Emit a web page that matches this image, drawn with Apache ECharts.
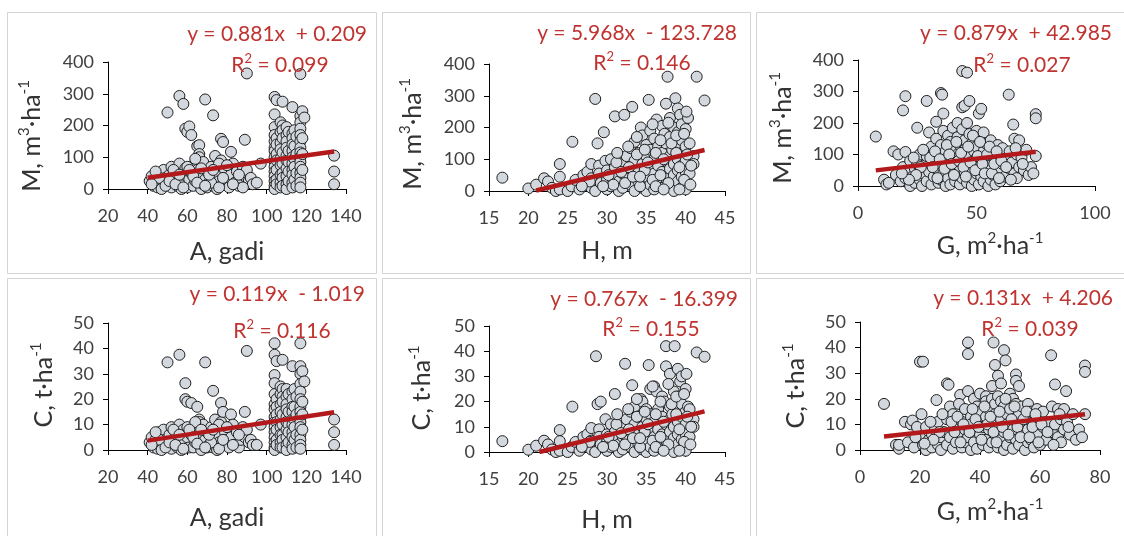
<!DOCTYPE html>
<html>
<head>
<meta charset="utf-8">
<script src="https://cdn.jsdelivr.net/npm/echarts@6/dist/echarts.min.js"></script>
<style>
    html, body { margin: 0; padding: 0; background: #fff; }
    #chart { width: 1124px; height: 536px; }
</style>
</head>
<body>
<div id="chart"></div>
<script>
// 样本点：[x, y]，按图片读数估计
// 图 1：蓄积量 M 与林龄 A
const ageVolume = [
    [41,25],[42,40],[43,10],[44,30],[45,5],[46,50],[47,20],[48,60],[48,8],[49,35],[50,241],[50,15],[51,45],[52,5],[52,70],[53,25],[54,55],[55,10],[55,35],[56,293],[56,80],[57,0],[57,20],[58,268],[58,45],[59,190],[59,65],[60,5],[60,180],[61,197],[61,30],[62,170],[62,50],[63,10],[63,75],[64,25],[65,60],[65,135],[66,138],[66,110],[66,100],[67,0],[67,40],[68,15],[68,85],[69,282],[69,30],[70,5],[70,55],[71,20],[72,70],[73,232],[73,10],[74,104],[74,35],[75,0],[75,50],[76,25],[77,158],[77,90],[78,148],[78,15],[79,60],[80,30],[81,5],[82,117],[82,45],[83,80],[84,20],[85,55],[86,10],[87,35],[88,70],[89,155],[89,40],[90,364],[90,60],[91,25],[92,35],[93,15],[95,20],[97,80],[88,5],[46,35],[53,60],[60,70],[64,95],[72,20],[76,80],
    [42,15],[44,55],[47,0],[49,10],[51,25],[54,15],[56,45],[58,5],[61,60],[63,40],[65,20],[67,65],[69,10],[71,45],[73,60],[76,5],[78,35],[80,75],[83,15],[86,45],
    [104,290],[104,235],[104,195],[104,170],[104,150],[104,130],[104,120],[104,100],[104,85],[104,70],[104,55],[104,40],[104,25],[104,10],[104,0],
    [105,280],[105,160],[105,140],[105,110],[105,90],[105,60],[105,30],[105,15],
    [107,210],[107,180],[107,145],[107,125],[107,95],[107,75],[107,45],[107,20],[107,5],
    [108,275],[108,200],[108,185],[108,160],[108,115],[108,80],[108,50],[108,35],[108,10],
    [110,195],[110,170],[110,150],[110,130],[110,105],[110,90],[110,65],[110,40],[110,15],[110,0],
    [111,180],[111,120],[111,85],[111,55],[111,25],
    [113,258],[113,175],[113,160],[113,140],[113,120],[113,100],[113,80],[113,60],[113,45],[113,20],[113,5],
    [114,185],[114,135],[114,95],[114,70],[114,30],
    [115,165],[115,110],[115,50],[115,10],
    [117,362],[117,230],[117,210],[117,190],[117,170],[117,150],[117,130],[117,115],[117,100],[117,85],[117,70],[117,50],[117,35],[117,20],[117,5],
    [118,245],[118,160],[118,110],[118,60],[119,225],
    [134,105],[134,55],[134,15]
];
// 图 2：蓄积量 M 与树高 H
const heightVolume = [
    [16.7,42],[20,8],[21,20],[22,40],[22.5,30],[23,10],[23.5,0],[24,85],[24,45],[24,5],[25,0],[25.6,155],[25.5,15],[26,35],[26.5,5],[27,50],[27,20],[27.5,60],[28,85],[28,40],[28,10],[28.5,290],[28.5,0],[28.8,150],[29,80],[29,55],[29.2,25],[29.6,185],[29.8,95],[30,65],[30,35],[30,5],[30.5,100],[30.5,15],[31,235],[31,75],[31,45],[31.5,0],[31.5,30],[32,85],[32,55],[32,10],[32.2,240],[32.5,110],[32.5,40],[33,135],[33,70],[33,20],[33.2,265],[33.5,155],[33.5,95],[33.5,0],[34,120],[34,60],[34,30],[34.3,200],[34.5,175],[34.5,85],[34.5,10],[35,145],[35,110],[35,45],[35,0],[35.3,287],[35.5,190],[35.5,130],[35.5,70],[35.5,20],[36,165],[36,100],[36,55],[36,5],[36.3,225],[36.5,140],[36.5,80],[36.5,30],[37,205],[37,120],[37,60],[37,10],[37.3,180],[37.5,275],[37.5,150],[37.5,95],[37.5,40],[37.7,360],[38,230],[38,170],[38,110],[38,70],[38,20],[38.3,130],[38.5,200],[38.5,85],[38.5,50],[38.5,0],[38.7,292],[39,260],[39,185],[39,145],[39,100],[39,65],[39,30],[39.3,240],[39.5,210],[39.5,160],[39.5,120],[39.5,80],[39.5,45],[39.5,10],[40,195],[40,140],[40,95],[40,60],[40,5],[40.3,230],[40.5,150],[40.5,55],[41,110],[41,85],[41.4,360],[42.4,285],
    [30.2,50],[30.8,20],[31.2,90],[31.8,60],[32.3,25],[32.8,75],[33.3,45],[33.8,115],[34.2,15],[34.8,65],[35.2,90],[35.8,35],[36.2,120],[36.8,50],[37.2,100],[37.8,25],[38.2,150],[38.8,120],[39.2,75],[39.8,35],[40.2,115],[40.7,80],[36.8,160],[35.8,210],[34.8,130],[33.8,170],[37.8,215],[38.8,175],[39.8,180],[40.1,250],[29.5,15],[27.8,30],[26.8,15],[31.3,120],[32.7,140],[34.2,45],[36.2,15],[37.2,5],[39.2,5],[40.6,20]
];
// 图 3：蓄积量 M 与断面积 G
const basalVolume = [
    [7.5,157],[11,20],[12,5],[13,10],[15,110],[16,35],[17,100],[18,15],[19,240],[19,60],[20,285],[20,108],[20,25],[21,45],[22,0],[22,80],[23,30],[24,55],[24,10],[25,185],[25,70],[26,20],[26,100],[27,40],[27,0],[28,65],[29,270],[29,95],[29,15],[30,170],[30,45],[31,125],[31,5],[32,80],[32,30],[33,204],[33,150],[33,55],[34,100],[34,10],[35,295],[35,130],[35,70],[35,20],[35.5,290],[36,230],[36,175],[36,40],[37,110],[37,85],[37,0],[38,160],[38,60],[38,25],[39,140],[39,95],[39,5],[40,185],[40,120],[40,50],[41,75],[41,15],[42,200],[42,155],[42,100],[42,35],[43,130],[43,60],[43,5],[44,365],[44,250],[44,180],[44,90],[44,25],[45,255],[45,145],[45,115],[45,45],[46,360],[46,200],[46,70],[46,10],[47,270],[47,165],[47,95],[47,30],[48,135],[48,55],[48,0],[49,110],[49,80],[49,20],[50,175],[50,125],[50,40],[51,230],[51,95],[51,60],[51,5],[52,245],[52,150],[52,30],[53,170],[53,110],[53,75],[53,15],[54,135],[54,50],[55,95],[55,0],[56,145],[56,65],[56,20],[57,115],[57,35],[58,85],[58,5],[59,130],[59,50],[60,100],[60,15],[61,70],[61,120],[62,30],[63,90],[63.6,290],[64,110],[64,55],[65,75],[65.5,195],[66,150],[66,40],[67,100],[67,25],[68,145],[68,60],[69,90],[70,50],[71,115],[72,35],[73,60],[74,40],[75,228],[75,215],[75,95],
    [30.5,90],[31.5,60],[32.5,110],[33.5,25],[34.5,85],[36.5,55],[37.5,130],[38.5,100],[39.5,70],[40.5,35],[41.5,140],[42.5,80],[43.5,105],[44.5,60],[45.5,30],[46.5,125],[47.5,75],[48.5,160],[49.5,50],[50.5,95],[51.5,140],[52.5,70],[53.5,40],[54.5,100],[55.5,125],[56.5,40],[57.5,70],[58.5,110],[59.5,25],[60.5,80],[62.5,60],[64.5,20],[66.5,120],[69.5,70],[27.5,115],[26.5,60],[24.5,35],[23.5,90],[21.5,20],[18.5,40]
];
// 图 4：碳储量 C 与林龄 A
const ageCarbon = [
    [41,3],[42,5],[43,1],[44,4],[45,0.5],[46,7],[47,2],[48,8],[48,1],[49,4],[50,34.5],[50,2],[51,6],[52,0.5],[52,9],[53,3],[54,7],[55,1],[55,4],[56,37.5],[56,10],[57,0],[57,2],[58,8],[59,26.3],[59,20],[60,5],[60,19],[61,1],[62,18.5],[62,6],[63,1],[63,9],[64,3],[65,7],[65,17],[66,12],[66,11],[67,0],[67,5],[68,2],[68,10],[69,34.5],[69,4],[70,1],[70,7],[71,2],[72,9],[73,23.3],[73,1],[74,12],[74,4],[75,0],[75,6],[76,3],[77,18.5],[77,11],[78,15],[78,2],[79,7],[80,4],[81,1],[82,14],[82,5],[83,10],[84,2],[85,7],[86,1],[87,4],[88,9],[89,15],[89,5],[90,39],[90,8],[91,3],[92,4],[93,2],[95,2],[97,10],[46,4],[53,8],[60,9],[64,11],[72,3],[76,10],
    [42,2],[44,7],[47,0],[49,1],[51,3],[54,2],[56,6],[58,0.5],[61,8],[63,5],[65,2.5],[67,8],[69,1],[71,6],[73,8],[76,0.5],[78,4],[80,9],[83,2],[86,6],
    [104,42],[104,37.5],[104,29.5],[104,26.3],[104,22],[104,18],[104,16],[104,13],[104,11],[104,9],[104,7],[104,5],[104,3],[104,1],[104,0],
    [105,35],[105,20],[105,17],[105,14],[105,11],[105,8],[105,4],[105,2],
    [107,25],[107,22],[107,18],[107,15],[107,12],[107,9],[107,6],[107,3],[107,1],
    [108,35.5],[108,24],[108,21],[108,19],[108,14],[108,10],[108,6],[108,4],[108,1],
    [110,24],[110,21],[110,18],[110,16],[110,13],[110,11],[110,8],[110,5],[110,2],[110,0],
    [111,22],[111,15],[111,10],[111,7],[111,3],
    [113,33],[113,23],[113,20],[113,17],[113,15],[113,12],[113,10],[113,7],[113,5],[113,2],[113,0.5],
    [114,24],[114,17],[114,12],[114,9],[114,4],
    [115,21],[115,14],[115,6],[115,1],
    [117,42],[117,33],[117,30],[117,26],[117,23],[117,20],[117,17],[117,15],[117,13],[117,11],[117,9],[117,6],[117,4],[117,2],[117,0.5],
    [118,31],[118,19],[118,14],[118,8],[119,27],
    [134,12],[134,7],[134,2]
];
// 图 5：碳储量 C 与树高 H
const heightCarbon = [
    [16.7,4.3],[20,0.9],[21,2.5],[22,4.5],[22.5,3],[23,1],[23.5,0],[24,8.7],[24,4.3],[24,0.5],[25,0],[25.6,18],[25.5,2],[26,4],[26.5,0.5],[27,6],[27,2.5],[27.5,7],[28,9.5],[28,4.5],[28,1],[28.6,38],[28.5,0],[28.8,19],[29,9],[29.2,20],[29,6],[29.2,3],[29.8,13],[30,7],[30,4],[30,0.5],[30.5,11],[30.5,2],[31,23],[31,8],[31,5],[31.5,0],[31.5,3],[32,10],[32,6],[32,1],[32.3,35],[32.5,13],[32.5,4.5],[33,16],[33,8],[33,2],[33.2,26.5],[33.5,18],[33.5,11],[33.5,0],[34,14],[34,7],[34,3],[34.3,21],[34.5,20],[34.5,10],[34.5,1],[35,17],[35,13],[35,5],[35,0],[35.3,34.5],[35.5,25],[35.5,15],[35.5,8],[35.5,2],[36,26],[36,12],[36,6],[36,0.5],[36.3,24],[36.5,17],[36.5,9],[36.5,3],[37,22],[37,14],[37,7],[37,1],[37.3,20],[37.5,42],[37.5,34],[37.5,11],[37.5,4.5],[38,31],[38,18],[38,13],[38,8],[38,2],[38.3,15],[38.5,24],[38.5,10],[38.5,5.5],[38.5,0],[38.6,42],[39,33],[39,22],[39,17],[39,12],[39,7],[39,3],[39.3,28],[39.5,30],[39.5,19],[39.5,14],[39.5,9],[39.5,5],[39.5,1],[40,25],[40,16],[40,11],[40,7],[40,0.5],[40.3,18],[40.5,17],[40.5,6],[41,13],[41,10],[41.4,39.5],[42.4,37.8],
    [30.2,6],[30.8,2.5],[31.2,11],[31.8,7.5],[32.3,3],[32.8,9],[33.3,5.5],[33.8,14],[34.2,2],[34.8,8],[35.2,11],[35.8,4.5],[36.2,15],[36.8,6],[37.2,12],[37.8,3],[38.2,19],[38.8,15],[39.2,9],[39.8,4],[40.2,14],[40.7,10],[36.8,20],[35.8,26],[34.8,16],[33.8,21],[37.8,27],[38.8,22],[39.8,23],[40.1,31],[29.5,2],[27.8,4],[26.8,2],[31.3,15],[32.7,17],[34.2,5.5],[36.2,2],[37.2,0.5],[39.2,0.5],[40.6,3]
];
// 图 6：碳储量 C 与断面积 G
const basalCarbon = [
    [8,18],[12,2],[13,0.5],[13,2],[15,11],[16,3],[17,10],[17.5,11.5],[18,1],[19,9],[20,34.5],[20.5,14],[20,5],[21,34.5],[21,2],[22,0],[22,9],[23,4],[24,6],[24,1],[25.5,19.5],[25,8],[26,2],[26,11],[27,5],[27,0],[28,7],[29,26],[29.5,25.5],[29,12],[29,2],[30,17],[30,5],[31,14],[31,0.5],[32,9],[32,3],[33.4,21.5],[33,18],[33,7],[34,11],[34,1],[35,16],[35,8],[35,3],[36,42],[36,37.5],[36,23],[36,5],[37,13],[37,10],[37,0],[38,20],[38,7],[38,3],[39,17],[39,12],[39,0.5],[40,22],[40,15],[40,6],[41,9],[41,2],[42,21],[42,19],[42,13],[42,4],[43,16],[43,8],[43,1],[44.5,42],[44,25],[44,20],[44,11],[44,3],[45,33.2],[45,18],[45,14],[45,6],[46,29],[46,21],[46,9],[46,1],[47,26],[47,19],[47,12],[47,4],[48,39],[48,17],[48,7],[48,0],[48.5,35],[49,14],[49,10],[49,2],[50,22],[50,16],[50,5],[51,20],[51,12],[51,8],[51,0.5],[52,29.5],[52,27],[52,18],[52,4],[53,25],[53,14],[53,9],[53,2],[54,17],[54,6],[55,12],[55,0],[56,18],[56,8],[56,3],[57,15],[57,4],[58,11],[58,1],[59,16],[59,6],[60,13],[60,2],[61,9],[61,15],[62,4],[63,11],[63.7,37],[64,17],[64,7],[65,25.6],[65,10],[66,16],[66,5],[67,12],[67,3],[68,16],[68,8],[68.7,23],[69,11],[70,6],[71,14],[72,4],[73,8],[74,5],[75,33],[75,30.5],[75,14],
    [30.5,11],[31.5,7],[32.5,13],[33.5,3],[34.5,10],[36.5,7],[37.5,16],[38.5,12],[39.5,9],[40.5,4],[41.5,17],[42.5,10],[43.5,13],[44.5,7],[45.5,3],[46.5,15],[47.5,9],[48.5,20],[49.5,6],[50.5,12],[51.5,17],[52.5,9],[53.5,5],[54.5,12],[55.5,15],[56.5,5],[57.5,9],[58.5,14],[59.5,3],[60.5,10],[62.5,7],[64.5,2],[66.5,14],[69.5,9],[27.5,14],[26.5,7],[24.5,4],[23.5,11],[21.5,2.5],[18.5,5]
];

// 趋势线两端点
const trendLines = [
    [[40, 35.4], [134, 118.3]],
    [[21, 1.6], [42.4, 129.3]],
    [[7.5, 49.6], [75, 108.9]],
    [[40, 3.7], [134, 14.9]],
    [[21.4, 0], [42.4, 16.1]],
    [[8, 5.3], [75, 14.0]]
];

// 回归方程与 R² 文本
const equations = ['y = 0.881x  + 0.209', 'y = 5.968x  - 123.728', 'y = 0.879x  + 42.985',
                   'y = 0.119x  - 1.019', 'y = 0.767x  - 16.399', 'y = 0.131x  + 4.206'];
const rSquared = ['0.099', '0.146', '0.027', '0.116', '0.155', '0.039'];

// 坐标轴刻度：[min, max, interval]
const xTicks = [[20, 140, 20], [15, 45, 5], [0, 100, 50], [20, 140, 20], [15, 45, 5], [0, 80, 20]];
const yTicks = [[0, 400, 100], [0, 400, 100], [0, 400, 100], [0, 50, 10], [0, 50, 10], [0, 50, 10]];

// 坐标轴标题（{sup|...} 为上标）
const xTitles = ['A, gadi', 'H, m', 'G, m{sup|2}·ha{sup|-1}', 'A, gadi', 'H, m', 'G, m{sup|2}·ha{sup|-1}'];
const yTitles = ['M, m{sup|3}·ha{sup|-1}', 'M, m{sup|3}·ha{sup|-1}', 'M, m{sup|3}·ha{sup|-1}',
                 'C, t·ha{sup|-1}', 'C, t·ha{sup|-1}', 'C, t·ha{sup|-1}'];

(function() {
    const FONT = 'Lato, "Noto Sans", sans-serif';
    const RED_TEXT = '#bf3330';
    const RED_LINE = '#b3191b';
    const seriesData = [ageVolume, heightVolume, basalVolume, ageCarbon, heightCarbon, basalCarbon];

    // 每个小图的绘图区位置与文字位置（像素）
    const layout = [
        { grid: [108, 62, 238, 127],  eq: [367, 34],  r2: [280, 65],   xt: [227, 252],  yt: [32, 136] },
        { grid: [489, 64, 236, 127],  eq: [737, 33],  r2: [642, 63],   xt: [607, 251],  yt: [413, 134] },
        { grid: [858, 60, 237, 126],  eq: [1112, 33], r2: [1022, 65],  xt: [990, 246],  yt: [783, 128] },
        { grid: [108, 323, 238, 127], eq: [365, 294], r2: [282, 331],  xt: [227, 518],  yt: [44, 385] },
        { grid: [489, 326, 236, 126], eq: [738, 299], r2: [651, 329],  xt: [607, 520],  yt: [422, 388] },
        { grid: [860, 322, 240, 128], eq: [1113, 298], r2: [1030, 329], xt: [990, 512], yt: [796, 386] }
    ];

    // 文字元素（支持上标 rich）
    function textEl(x, y, text, size, color, align, rotation) {
        return {
            type: 'text', x: x, y: y, rotation: rotation || 0, silent: true, z: 10,
            style: {
                text: text, fill: color, fontSize: size, fontFamily: FONT,
                align: align, textAlign: align, verticalAlign: 'middle', textVerticalAlign: 'middle',
                lineHeight: Math.round(size * 1.25),
                rich: {
                    sup: { fontSize: Math.round(size * 0.6), fontFamily: FONT, fill: color, verticalAlign: 'top', lineHeight: Math.round(size * 0.6) }
                }
            }
        };
    }

    const grids = [], xAxes = [], yAxes = [], series = [], graphics = [];

    // 面板外框
    [[7, 12, 369, 261], [382, 12, 368, 261], [756, 12, 380, 261],
     [7, 278, 369, 270], [382, 278, 368, 270], [756, 278, 380, 270]].forEach(r => {
        graphics.push({ type: 'rect', silent: true, z: 0, shape: { x: r[0] + 0.5, y: r[1] + 0.5, width: r[2], height: r[3] },
            style: { fill: 'none', stroke: '#d4d4d4', lineWidth: 1 } });
    });

    layout.forEach((p, i) => {
        grids.push({ left: p.grid[0], top: p.grid[1], width: p.grid[2], height: p.grid[3] });

        const axisCommon = {
            gridIndex: i, type: 'value',
            axisLine: { show: true, onZero: false, lineStyle: { color: '#000', width: 1 } },
            axisTick: { show: true, length: 5, lineStyle: { color: '#000' } },
            splitLine: { show: false }
        };
        xAxes.push(Object.assign({}, axisCommon, {
            min: xTicks[i][0], max: xTicks[i][1], interval: xTicks[i][2],
            axisLabel: { color: '#404040', fontSize: 18, fontFamily: FONT, margin: 18 }
        }));
        yAxes.push(Object.assign({}, axisCommon, {
            min: yTicks[i][0], max: yTicks[i][1], interval: yTicks[i][2],
            axisLabel: { color: '#404040', fontSize: 18, fontFamily: FONT, margin: 14 }
        }));

        // 散点
        series.push({
            type: 'scatter', xAxisIndex: i, yAxisIndex: i, data: seriesData[i], clip: false,
            symbol: 'circle', symbolSize: 11, z: 2,
            itemStyle: { color: '#d3d8df', borderColor: '#1e1e1e', borderWidth: 1, opacity: 1 }
        });
        // 线性趋势线
        series.push({
            type: 'line', xAxisIndex: i, yAxisIndex: i, data: trendLines[i], symbol: 'none', z: 4,
            lineStyle: { color: RED_LINE, width: 4.5 }
        });

        graphics.push(textEl(p.eq[0], p.eq[1], equations[i], 21, RED_TEXT, 'right'));
        graphics.push(textEl(p.r2[0], p.r2[1], 'R{sup|2} = ' + rSquared[i], 21, RED_TEXT, 'center'));
        graphics.push(textEl(p.xt[0], p.xt[1], xTitles[i], 25, '#333', 'center'));
        graphics.push(textEl(p.yt[0], p.yt[1], yTitles[i], 25, '#333', 'center', Math.PI / 2));
    });

    const chart = echarts.init(document.getElementById('chart'), null, { renderer: 'canvas' });
    chart.setOption({
        animation: false,
        backgroundColor: '#ffffff',
        grid: grids,
        xAxis: xAxes,
        yAxis: yAxes,
        series: series,
        graphic: graphics
    });
})();
</script>
</body>
</html>
